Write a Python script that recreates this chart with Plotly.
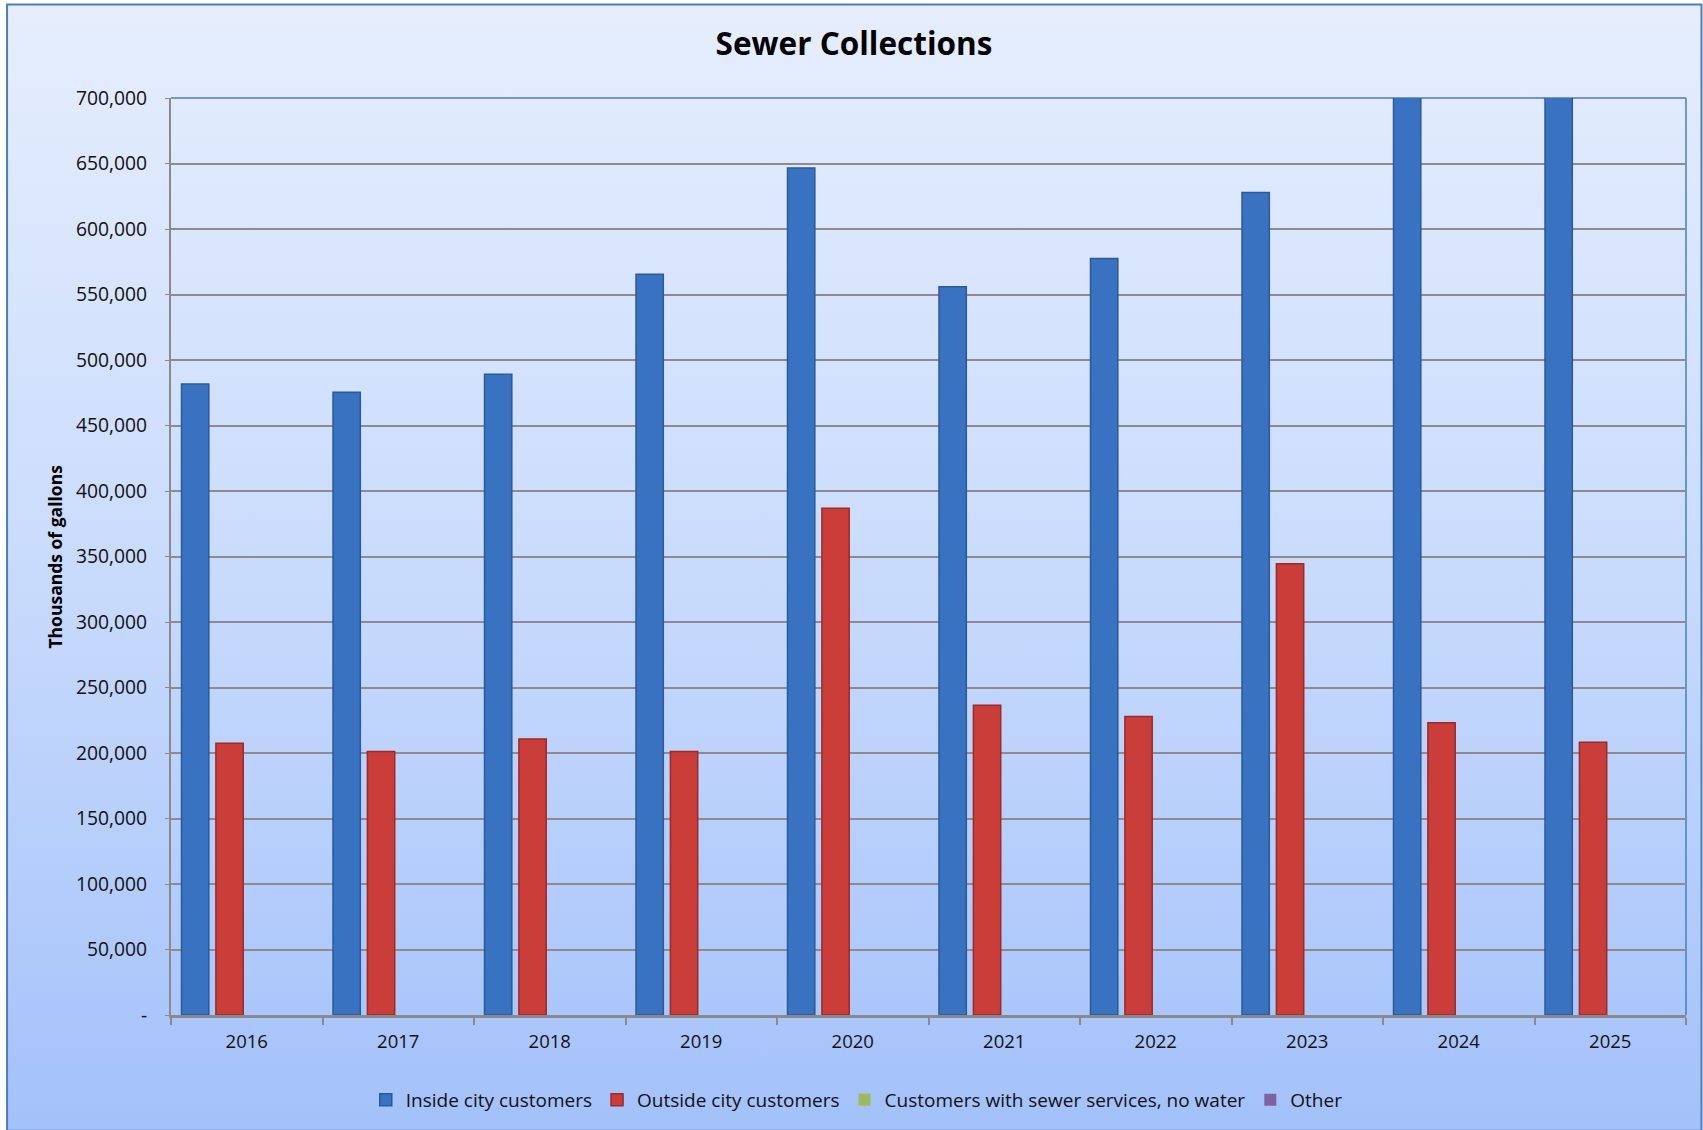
import base64
import plotly.graph_objects as go

# Sewer collections by fiscal year (thousands of gallons)
years = ["2016", "2017", "2018", "2019", "2020", "2021", "2022", "2023", "2024", "2025"]
inside_city = [481700, 475400, 489100, 565500, 646600, 555900, 577500, 627800, 742000, 768000]
outside_city = [207500, 201200, 210600, 201200, 386900, 236500, 227900, 344500, 223100, 208200]
sewer_only = [0, 0, 0, 0, 0, 0, 0, 0, 0, 0]
other = [0, 0, 0, 0, 0, 0, 0, 0, 0, 0]

series_names = [
    "Inside city customers",
    "Outside city customers",
    "Customers with sewer services, no water",
    "Other",
]

y_ticks = list(range(0, 700001, 50000))
y_ticktext = ["-" if v == 0 else f"{v:,}" for v in y_ticks]

FONT = "Open Sans, Noto Sans, DejaVu Sans, sans-serif"

# figure geometry (pixels)
W, H = 1703, 1130
L, R, T, B = 171, 1686.5, 97.7, 1016.0
PW, PH = R - L, B - T


def px_x(p):
    return (p - L) / PW


def px_y(p):
    return (B - p) / PH


# soft vertical gradient for the chart area
svg = (
    '<svg xmlns="http://www.w3.org/2000/svg" width="100" height="100" preserveAspectRatio="none">'
    '<defs><linearGradient id="g" x1="0" y1="0" x2="0" y2="1">'
    '<stop offset="0" stop-color="#E6EEFD"/>'
    '<stop offset="0.5" stop-color="#C9DBFC"/>'
    '<stop offset="1" stop-color="#A3C1FA"/>'
    '</linearGradient></defs>'
    '<rect width="100" height="100" fill="url(#g)"/></svg>'
)
bg_uri = "data:image/svg+xml;base64," + base64.b64encode(svg.encode()).decode()

fig = go.Figure()

styles = [
    dict(color="#3872C1", line=dict(color="#2A5A9A", width=1.5)),
    dict(color="#CB3D39", line=dict(color="#9C2A27", width=1.5)),
    dict(color="#9BBB59", line=dict(color="#71893F", width=0)),
    dict(color="#7E62A1", line=dict(color="#5C4777", width=0)),
]
for name, vals, st in zip(series_names, [inside_city, outside_city, sewer_only, other], styles):
    fig.add_trace(go.Bar(x=years, y=vals, name=name, marker=st))

ox0, ox1 = px_x(7), px_x(1702)
oy1, oy0 = px_y(4), px_y(1132)

fig.update_layout(
    width=W,
    height=H,
    margin=dict(l=L, r=W - R, t=T, b=H - B),
    paper_bgcolor="white",
    plot_bgcolor="rgba(0,0,0,0)",
    barmode="group",
    bargap=0.092,
    bargroupgap=0.206,
    font=dict(family=FONT, size=18.5, color="#111111"),
    title=dict(
        text="<b>Sewer Collections</b>",
        x=854 / W,
        xref="container",
        xanchor="center",
        y=1 - 43.5 / H,
        yref="container",
        yanchor="middle",
        font=dict(family=FONT, size=31.5, color="#000000"),
    ),
    showlegend=True,
    legend=dict(
        orientation="h",
        x=px_x(857),
        xanchor="center",
        y=px_y(1100),
        yanchor="middle",
        bgcolor="rgba(0,0,0,0)",
        font=dict(family=FONT, size=19, color="#111111"),
        itemwidth=30,
        traceorder="normal",
    ),
    images=[
        dict(
            source=bg_uri,
            xref="paper",
            yref="paper",
            x=ox0,
            y=oy1,
            sizex=ox1 - ox0,
            sizey=oy1 - oy0,
            sizing="stretch",
            xanchor="left",
            yanchor="top",
            layer="below",
        )
    ],
    shapes=[
        # chart area border
        dict(
            type="rect",
            xref="paper",
            yref="paper",
            x0=ox0,
            x1=ox1,
            y0=oy0,
            y1=oy1,
            line=dict(color="#4A7EBB", width=2),
            fillcolor="rgba(0,0,0,0)",
            layer="above",
        ),
        # plot area top and right edges
        dict(
            type="line",
            xref="x domain",
            yref="y domain",
            x0=0,
            x1=1,
            y0=1,
            y1=1,
            line=dict(color="#4A7EBB", width=1.5),
            layer="below",
        ),
        dict(
            type="line",
            xref="x domain",
            yref="y domain",
            x0=1,
            x1=1,
            y0=0,
            y1=1,
            line=dict(color="#4A7EBB", width=1.5),
            layer="below",
        ),
    ],
    annotations=[
        dict(
            text="<b>Thousands of gallons</b>",
            xref="paper",
            yref="paper",
            x=px_x(54),
            y=0.5,
            xanchor="center",
            yanchor="middle",
            textangle=-90,
            showarrow=False,
            font=dict(family=FONT, size=17.5, color="#000000"),
        )
    ],
)

fig.update_xaxes(
    type="category",
    showgrid=False,
    showline=True,
    linecolor="#8A8A8A",
    linewidth=2.5,
    ticks="outside",
    tickson="boundaries",
    ticklen=7,
    tickcolor="#8A8A8A",
    tickwidth=1.5,
    ticklabelstandoff=8,
    tickfont=dict(family=FONT, size=18.5, color="#111111"),
)

fig.update_yaxes(
    range=[0, 700000],
    tickvals=y_ticks,
    ticktext=y_ticktext,
    showgrid=True,
    gridcolor="#8C8C8C",
    gridwidth=1.5,
    zeroline=False,
    showline=True,
    linecolor="#8A8A8A",
    linewidth=2,
    ticks="outside",
    ticklen=4,
    tickcolor="#8A8A8A",
    ticklabelstandoff=14,
    tickfont=dict(family=FONT, size=19.3, color="#111111"),
)

fig.write_html("out.html")
